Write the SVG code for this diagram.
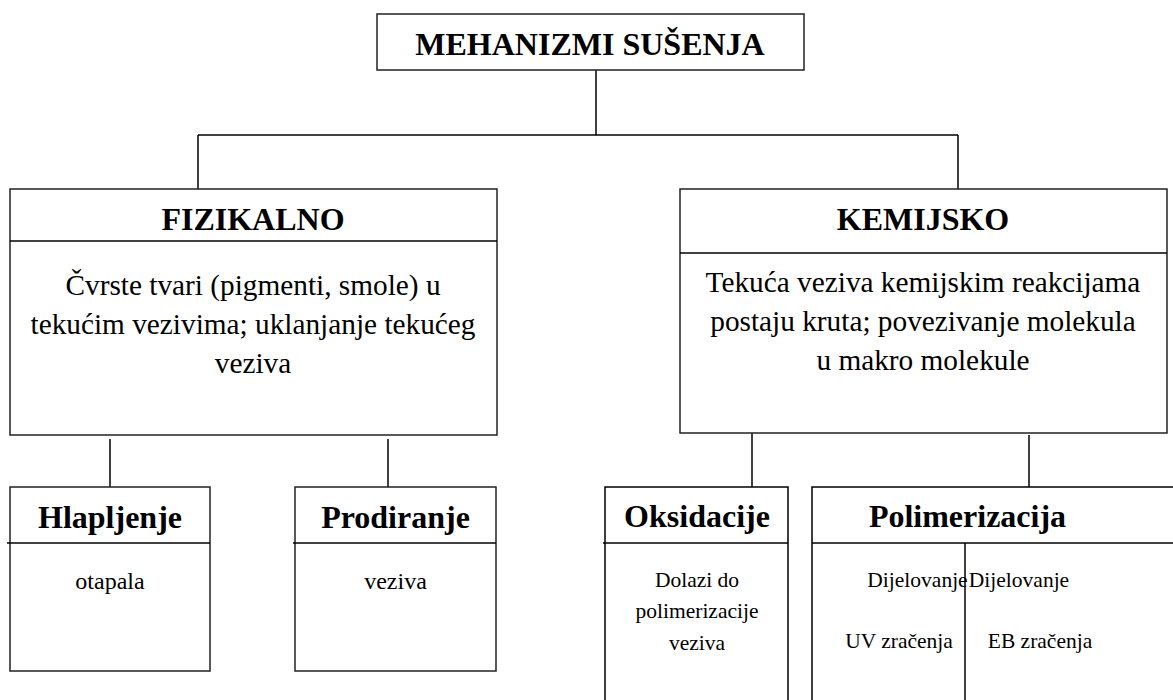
<svg xmlns="http://www.w3.org/2000/svg" width="1173" height="700" viewBox="0 0 1173 700">
<style>
.box{fill:#fff;stroke:#222;stroke-width:1.5}
.ln{stroke:#000;stroke-width:1.5;fill:none}
.t{font-family:"Liberation Serif","Times New Roman",serif;fill:#000;text-anchor:middle}
.h{font-weight:bold;font-size:32px}
.b{font-size:29.3px}
.s{font-size:24px}
.xs{font-size:21.5px}
</style>
<rect width="1173" height="700" fill="#fff"/>
<g id="connectors">
<line class="ln" x1="596" y1="70" x2="596" y2="135"/>
<line class="ln" x1="198" y1="135" x2="958" y2="135"/>
<line class="ln" x1="198" y1="135" x2="198" y2="189"/>
<line class="ln" x1="958" y1="135" x2="958" y2="189"/>
<line class="ln" x1="110" y1="439" x2="110" y2="487"/>
<line class="ln" x1="388" y1="439" x2="388" y2="487"/>
<line class="ln" x1="752" y1="433" x2="752" y2="487"/>
<line class="ln" x1="1029" y1="435" x2="1029" y2="487"/>
</g>
<g id="root">
<rect class="box" x="377" y="14" width="427" height="56"/>
<text class="t h" x="590" y="55">MEHANIZMI SUŠENJA</text>
</g>
<g id="fizikalno">
<rect class="box" x="10" y="189" width="487" height="246"/>
<line class="ln" x1="10" y1="241" x2="497" y2="241"/>
<text class="t h" x="253" y="230">FIZIKALNO</text>
<text class="t b" x="253" y="295">Čvrste tvari (pigmenti, smole) u</text>
<text class="t b" x="253" y="334">tekućim vezivima; uklanjanje tekućeg</text>
<text class="t b" x="253" y="373">veziva</text>
</g>
<g id="kemijsko">
<rect class="box" x="680" y="189" width="487" height="244"/>
<line class="ln" x1="680" y1="253" x2="1167" y2="253"/>
<text class="t h" x="923" y="230">KEMIJSKO</text>
<text class="t b" x="923" y="292">Tekuća veziva kemijskim reakcijama</text>
<text class="t b" x="923" y="331">postaju kruta; povezivanje molekula</text>
<text class="t b" x="923" y="370">u makro molekule</text>
</g>
<g id="hlapljenje">
<rect class="box" x="10" y="487" width="200" height="184"/>
<line class="ln" x1="7" y1="543" x2="210" y2="543"/>
<text class="t h" x="110" y="528">Hlapljenje</text>
<text class="t s" x="110" y="589">otapala</text>
</g>
<g id="prodiranje">
<rect class="box" x="295" y="487" width="201" height="184"/>
<line class="ln" x1="293" y1="543" x2="496" y2="543"/>
<text class="t h" x="395.5" y="528">Prodiranje</text>
<text class="t s" x="395.5" y="589">veziva</text>
</g>
<g id="oksidacije">
<path class="ln" d="M605 702 V487 H788 V702"/>
<line class="ln" x1="603" y1="543" x2="788" y2="543"/>
<text class="t h" x="697" y="527">Oksidacije</text>
<text class="t xs" x="697" y="587">Dolazi do</text>
<text class="t xs" x="697" y="618">polimerizacije</text>
<text class="t xs" x="697" y="650">veziva</text>
</g>
<g id="polimerizacija">
<path class="ln" d="M812 702 V487 H1175"/>
<line class="ln" x1="812" y1="543" x2="1175" y2="543"/>
<line class="ln" x1="965" y1="543" x2="965" y2="702"/>
<text class="t h" x="967.5" y="527">Polimerizacija</text>
<text class="t xs" x="917.5" y="587">Dijelovanje</text>
<text class="t xs" x="1019" y="587">Dijelovanje</text>
<text class="t xs" x="899" y="648">UV zračenja</text>
<text class="t xs" x="1040" y="648">EB zračenja</text>
</g>
</svg>
